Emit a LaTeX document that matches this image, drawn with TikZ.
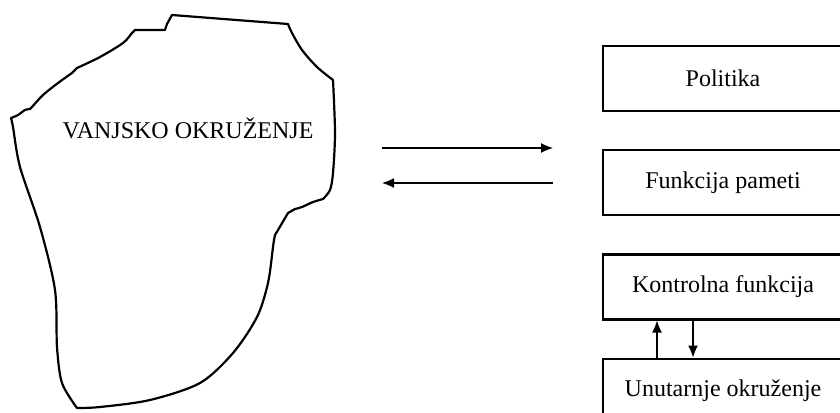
\documentclass[tikz,border=0pt]{standalone}
\usepackage{fontspec}
\setmainfont{Liberation Serif}
\usetikzlibrary{arrows.meta,positioning}

\begin{document}
\begin{tikzpicture}[x=0.5pt,y=-0.5pt,inner sep=1mm,
  font=\fontsize{12pt}{14pt}\selectfont,
  >={Latex[length=6pt,width=5pt]},
  level/.style={rectangle,draw,line width=1.1pt,minimum width=120pt,minimum height=32.5pt},
  flow/.style={->,line width=0.65pt}]
  \useasboundingbox (0,0) rectangle (840,412);
  % outer environment
  \draw[line width=1.1pt,line join=round]
    plot[smooth,tension=.5] coordinates {(11,118) (18,115) (25,110) (30,109)}
    -- plot[smooth,tension=.5] coordinates {(32,107) (43,95) (58,83) (72,73)}
    -- plot[smooth,tension=.5] coordinates {(77,68) (100,57) (123,43) (132,33) (135,30)}
    -- (165,30) -- (167,24) -- (172,15) -- (288,24)
    -- plot[smooth,tension=.5] coordinates {(288,24) (292,33) (302,50) (317,67) (333,80)}
    -- plot[smooth,tension=.5] coordinates {(333,80) (335,133) (333,173) (330,190) (323,199)}
    -- plot[smooth,tension=.5] coordinates {(323,199) (313,202) (302,207) (295,209)}
    -- plot[smooth,tension=.5] coordinates {(288,213) (278,230) (275,235)}
    -- plot[smooth,tension=.5] coordinates {(274,240) (273,247) (268,283) (257,317) (233,353)
        (200,383) (150,400) (100,407) (77,408)}
    -- plot[smooth,tension=.5] coordinates {(77,408) (62,383) (57,347) (55,290) (40,227)
        (20,167) (13,127) (11,118)} -- cycle;
  \node (env) at (188,128) {VANJSKO OKRUŽENJE};
  % levels
  \node[level] (policy) at (723,78.5) {Politika};
  \node[level] (intel) [below=18.5pt of policy] {Funkcija pameti};
  \node[level] (control) [below=18.5pt of intel] {Kontrolna funkcija};
  \node[level] (internal) [below=18.5pt of control] {Unutarnje okruženje};
  % exchange with the environment
  \coordinate (outA) at (382,148);
  \coordinate (outB) at (553,148);
  \coordinate (inA) at (553,183);
  \coordinate (inB) at (382,183);
  \draw[flow] (outA) -- (outB);
  \draw[flow] (inA) -- (inB);
  \draw[flow] ([xshift=-33pt]internal.north) -- ([xshift=-33pt]control.south);
  \draw[flow] ([xshift=-15pt]control.south) -- ([xshift=-15pt]internal.north);
\end{tikzpicture}
\end{document}
